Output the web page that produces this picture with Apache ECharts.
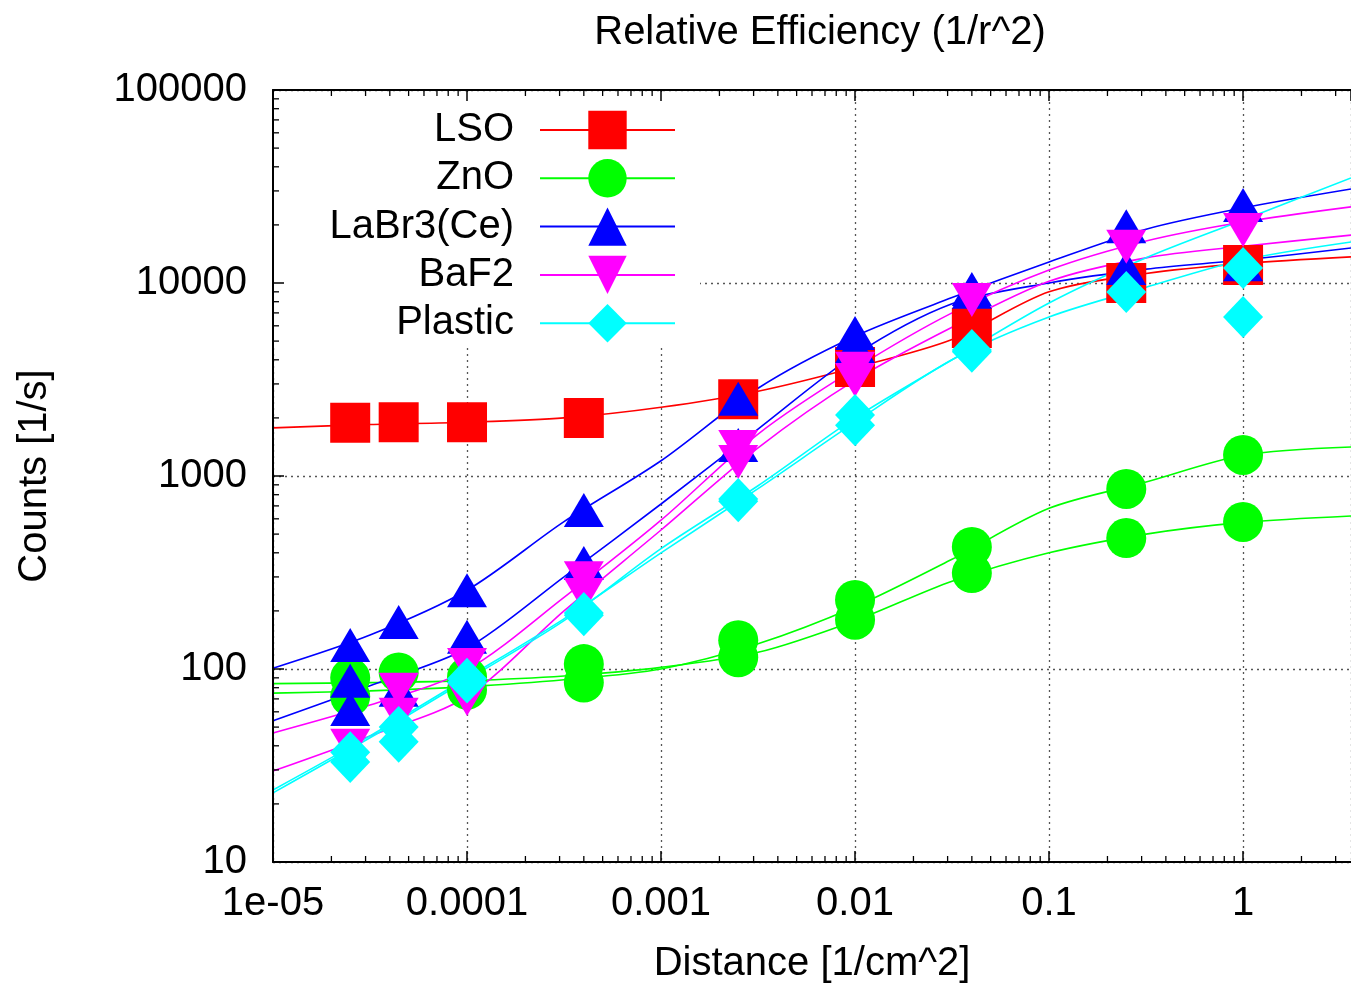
<!DOCTYPE html>
<html>
<head>
<meta charset="utf-8">
<script src="https://cdn.jsdelivr.net/npm/echarts@6/dist/echarts.min.js"></script>
<style>html,body{margin:0;padding:0;background:#fff;}#c{width:1351px;height:985px;}</style>
</head>
<body>
<div id="c"></div>
<script>
// ---- data ----
const ptX  = [2.5e-5, 4.444e-5, 1e-4, 4e-4, 2.5e-3, 0.01, 0.04, 0.25, 1];
const fitX = [1e-5, 3.162e-5, 1e-4, 3.162e-4, 1e-3, 3.162e-3, 1e-2, 3.162e-2, 0.1, 0.3162, 1, 3.6];

const xTickLabels = ['1e-05', '0.0001', '0.001', '0.01', '0.1', '1'];
const yTickLabels = ['10', '100', '1000', '10000', '100000'];
const xDecades = [1e-5, 1e-4, 1e-3, 1e-2, 1e-1, 1];
const yDecades = [10, 100, 1000, 10000];
const minorMultipliers = [2, 3, 4, 5, 6, 7, 8, 9];

const LSO_pts   = [1885, 1900, 1900, 2000, 2500, 3670, 5850, 10000, 12400];
const LSO_fit   = [1775, 1850, 1900, 2000, 2270, 2750, 3650, 5100, 9000, 11200, 12600, 13650];

const ZnO_ptsA  = [90, 96, 91, 106, 141, 228, 429, 857, 1285];
const ZnO_ptsB  = [72, null, 78, 85, 115, 180, 314, 477, 578];
const ZnO_fitA  = [75, 77, 81, 88, 100, 135, 210, 370, 680, 930, 1280, 1413];
const ZnO_fitB  = [84, 85, 87, 92, 102, 122, 178, 285, 400, 500, 575, 621];

const LaBr_ptsA = [133, 175, 256, 667, 2510, 5510, 9310, 19700, 25350];
const LaBr_ptsB = [87, 78, 147, 354, 1449, 4700, 9000, 11970, 12500];
const LaBr_ptsC = [62, null, null, null, null, null, null, null, null];
const LaBr_fitA = [101, 150, 256, 580, 1200, 2850, 5300, 8400, 12850, 19000, 24500, 30700];
const LaBr_fitB = [54, 82, 128, 300, 716, 1750, 4240, 7800, 10000, 11800, 13150, 15170];

const BaF2_ptsA = [40, 78, 105, 295, 1413, 3600, 8170, 15400, 18800];
const BaF2_ptsB = [null, 58, 70, 242, 1183, 3140, null, null, null];
const BaF2_fitA = [46.6, 65, 99, 235, 590, 1650, 3600, 7000, 11670, 16500, 20700, 24800];
const BaF2_fitB = [29.6, 45, 72, 200, 525, 1400, 3140, 5900, 10200, 13500, 15500, 17700];

const Pl_ptsA   = [37, 50, 89, 195, 760, 2070, 4500, 8970, 11970];
const Pl_ptsB   = [33, 42, 85, 190, 740, 1830, 4400, null, 6670];
const Pl_fitA   = [22.8, 44, 88, 178, 420, 890, 2000, 4000, 7870, 13500, 21200, 35000];
const Pl_fitB   = [23.6, 45, 90, 182, 400, 860, 1900, 4000, 6670, 9500, 13150, 16300];

const materials = [
  {name: 'LSO', color: '#ff0000', symbol: 'rect', size: [40, 40], rot: 0, fits: [LSO_fit], pts: [LSO_pts]},
  {name: 'ZnO', color: '#00ff00', symbol: 'circle', size: 40, rot: 0, fits: [ZnO_fitA, ZnO_fitB], pts: [ZnO_ptsA, ZnO_ptsB]},
  {name: 'LaBr3(Ce)', color: '#0000ff', symbol: 'triangle', size: [40, 34], rot: 0, fits: [LaBr_fitA, LaBr_fitB], pts: [LaBr_ptsA, LaBr_ptsB, LaBr_ptsC]},
  {name: 'BaF2', color: '#ff00ff', symbol: 'triangle', size: [40, 34], rot: 180, fits: [BaF2_fitA, BaF2_fitB], pts: [BaF2_ptsA, BaF2_ptsB]},
  {name: 'Plastic', color: '#00ffff', symbol: 'diamond', size: [40, 42], rot: 0, fits: [Pl_fitA, Pl_fitB], pts: [Pl_ptsA, Pl_ptsB]}
];

// ---- chart ----
const FONT = '"Liberation Sans", Arial, sans-serif';
const X_MIN = 1e-5, X_MAX = 3.6, Y_MIN = 10, Y_MAX = 100000;

const series = [];
materials.forEach(m => {
  m.fits.forEach(f => {
    series.push({
      name: m.name, type: 'line', xAxisIndex: 1, yAxisIndex: 1,
      data: fitX.map((x, j) => [x, f[j]]),
      smooth: 0.3,
      showSymbol: false, symbol: m.symbol, symbolSize: m.size, symbolRotate: m.rot,
      lineStyle: {color: m.color, width: 1.6},
      itemStyle: {color: m.color},
      silent: true, z: 2
    });
  });
  m.pts.forEach(p => {
    series.push({
      name: m.name, type: 'scatter', xAxisIndex: 1, yAxisIndex: 1,
      data: ptX.map((x, j) => [x, p[j]]).filter(d => d[1] != null),
      symbol: m.symbol, symbolSize: m.size, symbolRotate: m.rot,
      itemStyle: {color: m.color, opacity: 1},
      silent: true, z: 3
    });
  });
});

// minor ticks of the log axes (decoration), positioned by the axes' own scales
const minorData = [];
xDecades.forEach(d => minorMultipliers.forEach(k => { const v = d * k; if (v < X_MAX) minorData.push([v, Y_MIN, 0]); }));
yDecades.forEach(d => minorMultipliers.forEach(k => minorData.push([X_MIN, d * k, 1])));
series.push({
  type: 'custom', xAxisIndex: 1, yAxisIndex: 1, silent: true, clip: false, z: 11,
  data: minorData, encode: {x: 0, y: 1},
  renderItem: function (params, api) {
    const kind = api.value(2);
    const st = {stroke: '#000', lineWidth: 1.3};
    if (kind === 0) {
      const b = api.coord([api.value(0), Y_MIN]);
      const t = api.coord([api.value(0), Y_MAX]);
      return {type: 'group', children: [
        {type: 'line', shape: {x1: b[0], y1: b[1], x2: b[0], y2: b[1] - 6}, style: st},
        {type: 'line', shape: {x1: t[0], y1: t[1], x2: t[0], y2: t[1] + 6}, style: st}
      ]};
    }
    const l = api.coord([X_MIN, api.value(1)]);
    return {type: 'line', shape: {x1: l[0], y1: l[1], x2: l[0] + 6, y2: l[1]}, style: st};
  }
});

function fmt(labels, offset) {
  return function (v) {
    const l = Math.log10(v), e = Math.round(l);
    if (Math.abs(l - e) > 1e-6) return '';
    const s = labels[e + offset];
    return s === undefined ? '' : s;
  };
}

const gridPos = {left: 273, right: 0, top: 90, bottom: 123, outerBoundsMode: 'none', containLabel: false};

const option = {
  animation: false,
  backgroundColor: '#fff',
  title: {
    text: 'Relative Efficiency (1/r^2)', left: 815, top: 8, textAlign: 'center',
    textStyle: {fontFamily: FONT, fontSize: 40, fontWeight: 'normal', color: '#000'}
  },
  legend: {
    orient: 'vertical', align: 'right', right: 651, top: 92,
    padding: [18, 24, 2, 56], backgroundColor: '#fff',
    itemWidth: 135, itemHeight: 48, itemGap: 8.3,
    data: materials.map(m => m.name),
    textStyle: {fontFamily: FONT, fontSize: 40, color: '#000', padding: [0, 21, 0, 0]},
    selectedMode: false, z: 4
  },
  grid: [Object.assign({show: false}, gridPos), Object.assign({show: false}, gridPos)],
  xAxis: [
    {type: 'log', gridIndex: 0, min: X_MIN, max: X_MAX, logBase: 10,
     axisLine: {show: false}, axisTick: {show: false}, axisLabel: {show: false},
     splitLine: {show: true, lineStyle: {color: '#555', width: 1.3, type: [2, 4]}}},
    {type: 'log', gridIndex: 1, position: 'bottom', min: X_MIN, max: X_MAX, logBase: 10, z: 10,
     name: 'Distance [1/cm^2]', nameLocation: 'middle', nameGap: 82,
     nameTextStyle: {fontFamily: FONT, fontSize: 40, color: '#000'},
     axisLine: {show: true, onZero: false, lineStyle: {color: '#000', width: 2}},
     axisTick: {show: true, inside: true, length: 11, lineStyle: {color: '#000', width: 1.5}},
     axisLabel: {show: true, margin: 22, fontFamily: FONT, fontSize: 40, color: '#000',
                 formatter: fmt(xTickLabels, 5), showMaxLabel: false},
     splitLine: {show: false}},
    {type: 'log', gridIndex: 1, position: 'top', min: X_MIN, max: X_MAX, logBase: 10, z: 10,
     axisLine: {show: true, onZero: false, lineStyle: {color: '#000', width: 2}},
     axisTick: {show: true, inside: true, length: 11, lineStyle: {color: '#000', width: 1.5}},
     axisLabel: {show: false}, splitLine: {show: false}}
  ],
  yAxis: [
    {type: 'log', gridIndex: 0, min: Y_MIN, max: Y_MAX, logBase: 10,
     axisLine: {show: false}, axisTick: {show: false}, axisLabel: {show: false},
     splitLine: {show: true, lineStyle: {color: '#555', width: 1.3, type: [2, 4]}}},
    {type: 'log', gridIndex: 1, position: 'left', min: Y_MIN, max: Y_MAX, logBase: 10, z: 10,
     name: 'Counts [1/s]', nameLocation: 'middle', nameGap: 218,
     nameTextStyle: {fontFamily: FONT, fontSize: 40, color: '#000'},
     axisLine: {show: true, onZero: false, lineStyle: {color: '#000', width: 2}},
     axisTick: {show: true, inside: true, length: 11, lineStyle: {color: '#000', width: 1.5}},
     axisLabel: {show: true, margin: 26, fontFamily: FONT, fontSize: 40, color: '#000',
                 formatter: fmt(yTickLabels, -1)},
     splitLine: {show: false}}
  ],
  series: series
};

const chart = echarts.init(document.getElementById('c'), null, {renderer: 'canvas'});
chart.setOption(option);
</script>
</body>
</html>
